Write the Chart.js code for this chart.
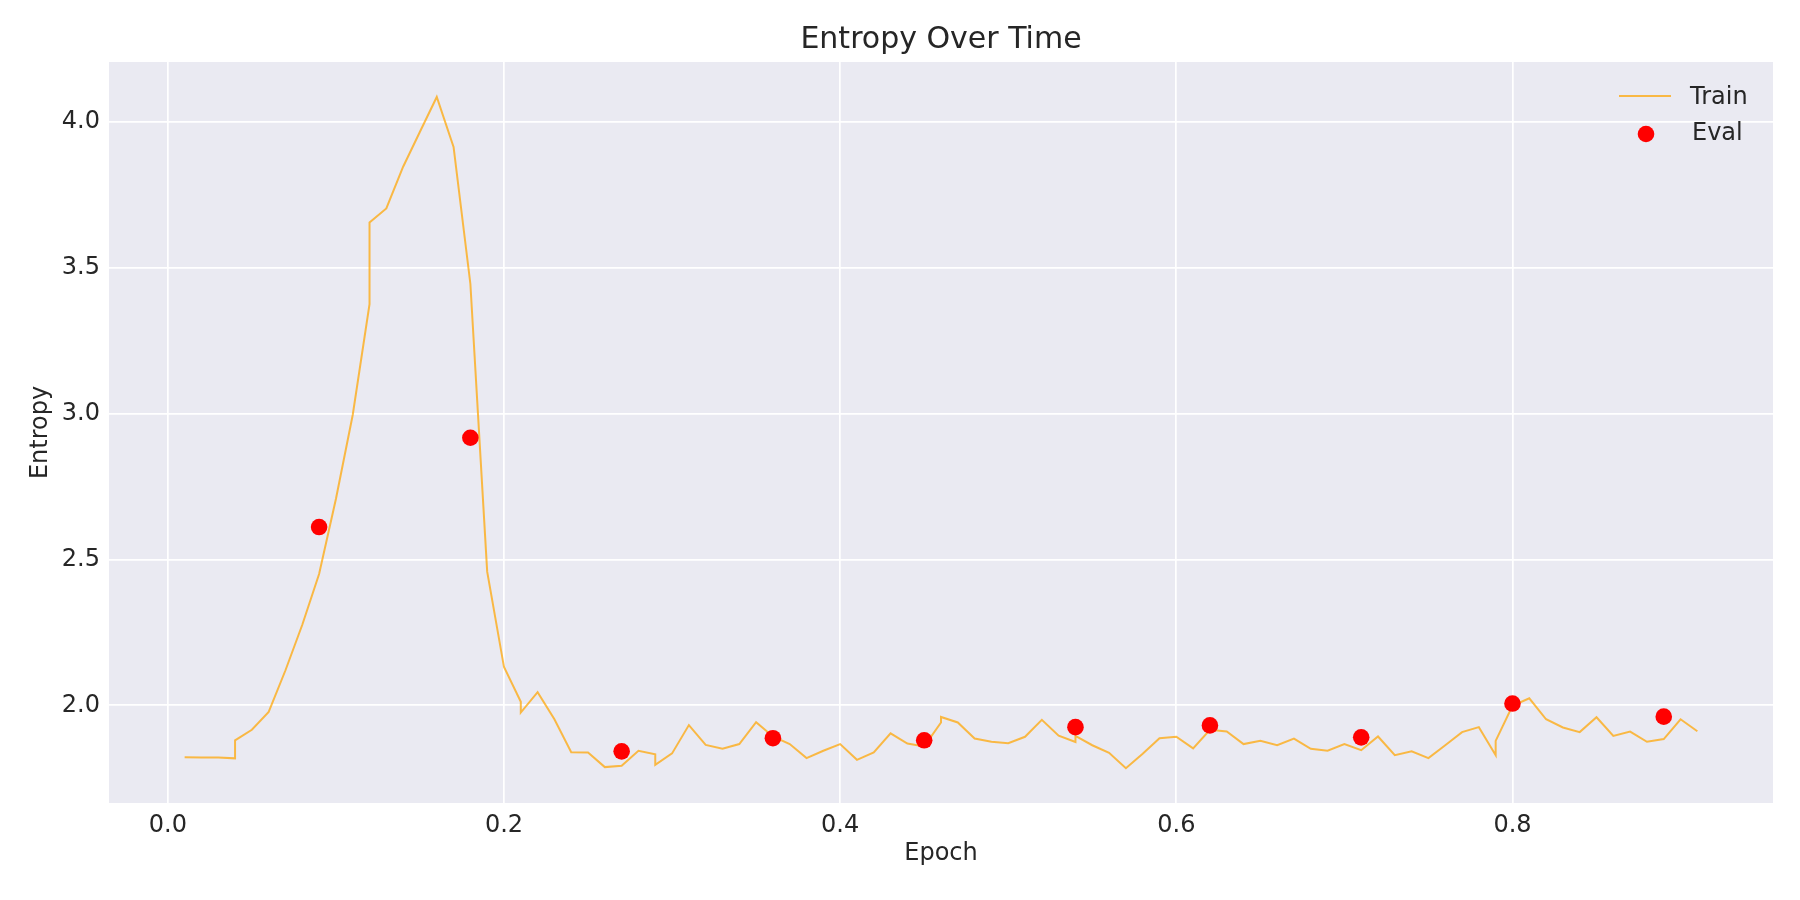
<!DOCTYPE html>
<html>
<head>
<meta charset="utf-8">
<title>Entropy Over Time</title>
<script src="https://cdn.jsdelivr.net/npm/chart.js@4/dist/chart.umd.min.js"></script>
<style>
  html, body { margin: 0; padding: 0; background: #ffffff; }
  canvas { display: block; }
</style>
</head>
<body>
<canvas id="chart" width="1800" height="900"></canvas>
<script>
// Train entropy logged per step (epoch rounded to 2 decimals, so some epochs repeat)
const trainEpoch = [
    0.01, 0.02, 0.03, 0.04, 0.04, 0.05, 0.06, 0.07, 0.08, 0.09,
    0.10, 0.11, 0.12, 0.12, 0.13, 0.14, 0.15, 0.16, 0.17, 0.18,
    0.19, 0.20, 0.21, 0.21, 0.22, 0.23, 0.24, 0.25, 0.26, 0.27,
    0.28, 0.29, 0.29, 0.30, 0.31, 0.32, 0.33, 0.34, 0.35, 0.36,
    0.37, 0.38, 0.39, 0.40, 0.41, 0.42, 0.43, 0.44, 0.45, 0.46,
    0.46, 0.47, 0.48, 0.49, 0.50, 0.51, 0.52, 0.53, 0.54, 0.54,
    0.55, 0.56, 0.57, 0.58, 0.59, 0.60, 0.61, 0.62, 0.63, 0.64,
    0.65, 0.66, 0.67, 0.68, 0.69, 0.70, 0.71, 0.72, 0.73, 0.74,
    0.75, 0.76, 0.77, 0.78, 0.79, 0.79, 0.80, 0.81, 0.82, 0.83,
    0.84, 0.85, 0.86, 0.87, 0.88, 0.89, 0.90, 0.91
];
const trainEntropy = [
    1.822, 1.821, 1.821, 1.818, 1.880, 1.916, 1.977, 2.120, 2.276, 2.450,
    2.707, 2.995, 3.375, 3.655, 3.703, 3.846, 3.966, 4.085, 3.914, 3.445,
    2.458, 2.131, 2.012, 1.975, 2.045, 1.952, 1.839, 1.838, 1.788, 1.793,
    1.844, 1.832, 1.796, 1.835, 1.932, 1.864, 1.851, 1.867, 1.942, 1.893,
    1.867, 1.819, 1.844, 1.867, 1.813, 1.838, 1.904, 1.869, 1.859, 1.941,
    1.960, 1.941, 1.886, 1.875, 1.870, 1.892, 1.950, 1.896, 1.874, 1.895,
    1.863, 1.837, 1.784, 1.834, 1.887, 1.892, 1.852, 1.916, 1.910, 1.867,
    1.878, 1.863, 1.886, 1.851, 1.844, 1.867, 1.846, 1.893, 1.829, 1.842,
    1.819, 1.863, 1.908, 1.925, 1.829, 1.878, 1.998, 2.024, 1.952, 1.924,
    1.908, 1.959, 1.895, 1.910, 1.875, 1.884, 1.952, 1.911
];

// Eval entropy
const evalEpoch = [0.09, 0.18, 0.27, 0.36, 0.45, 0.54, 0.62, 0.71, 0.80, 0.89];
const evalEntropy = [2.611, 2.917, 1.842, 1.887, 1.880, 1.925, 1.931, 1.890, 2.006, 1.961];

// Tick labels
const xTicks = [0.0, 0.2, 0.4, 0.6, 0.8];
const yTicks = [2.0, 2.5, 3.0, 3.5, 4.0];

const TEXT = '#262626';
const FONT = "'DejaVu Sans', sans-serif";
const TRAIN_COLOR = 'rgba(255, 165, 0, 0.72)';
const EVAL_COLOR = '#ff0000';

// Grey panel behind the plot area (seaborn darkgrid look)
const panelBackground = {
    id: 'panelBackground',
    beforeDraw(chart) {
        const { ctx, chartArea: a } = chart;
        ctx.save();
        ctx.fillStyle = '#eaeaf2';
        ctx.fillRect(a.left, a.top, a.right - a.left, a.bottom - a.top);
        ctx.restore();
    }
};

// Legend in the upper right corner, inside the plot area
const innerLegend = {
    id: 'innerLegend',
    afterDraw(chart) {
        const { ctx, chartArea: a } = chart;
        const train = chart.data.datasets[1];
        const ev = chart.data.datasets[0];
        const x0 = a.right - 154;
        ctx.save();
        ctx.font = '24px ' + FONT;
        ctx.fillStyle = TEXT;
        ctx.textBaseline = 'middle';
        ctx.textAlign = 'left';

        ctx.strokeStyle = train.borderColor;
        ctx.lineWidth = train.borderWidth;
        ctx.beginPath();
        ctx.moveTo(x0, a.top + 34);
        ctx.lineTo(x0 + 52, a.top + 34);
        ctx.stroke();
        ctx.fillText(train.label, x0 + 71, a.top + 35.5);

        ctx.fillStyle = ev.backgroundColor;
        ctx.beginPath();
        ctx.arc(x0 + 27, a.top + 72, ev.pointRadius, 0, Math.PI * 2);
        ctx.fill();
        ctx.fillStyle = TEXT;
        ctx.fillText(ev.label, x0 + 73, a.top + 71.5);
        ctx.restore();
    }
};

function fixedTicks(values) {
    return function (scale) {
        scale.ticks = values.map(v => ({ value: v }));
    };
}

new Chart(document.getElementById('chart'), {
    type: 'line',
    data: {
        datasets: [
            {
                label: 'Eval',
                type: 'scatter',
                data: evalEpoch.map((x, i) => ({ x: x, y: evalEntropy[i] })),
                backgroundColor: EVAL_COLOR,
                borderColor: EVAL_COLOR,
                borderWidth: 0,
                pointRadius: 8.3,
                pointHoverRadius: 8.3,
                order: 0
            },
            {
                label: 'Train',
                data: trainEpoch.map((x, i) => ({ x: x, y: trainEntropy[i] })),
                borderColor: TRAIN_COLOR,
                backgroundColor: TRAIN_COLOR,
                borderWidth: 2,
                pointRadius: 0,
                tension: 0,
                fill: false,
                order: 1
            }
        ]
    },
    options: {
        responsive: false,
        devicePixelRatio: 1,
        animation: false,
        layout: { padding: { left: 0, right: 27, top: 0, bottom: 0 } },
        plugins: {
            legend: { display: false },
            tooltip: { enabled: false },
            title: {
                display: true,
                fullSize: false,   // centre the title over the plot area, like matplotlib
                text: 'Entropy Over Time',
                color: TEXT,
                font: { family: FONT, size: 30, weight: 'normal', lineHeight: 1.2 },
                padding: { top: 22, bottom: 4 }
            }
        },
        scales: {
            x: {
                type: 'linear',
                min: -0.035,
                max: 0.955,
                afterBuildTicks: fixedTicks(xTicks),
                afterFit(scale) { scale.height = 97; },
                grid: { color: '#ffffff', lineWidth: 1.7, drawTicks: false },
                border: { display: false },
                ticks: {
                    color: TEXT,
                    font: { family: FONT, size: 24 },
                    padding: 8,
                    maxRotation: 0,
                    callback: v => v.toFixed(1)
                },
                title: {
                    display: true,
                    text: 'Epoch',
                    color: TEXT,
                    font: { family: FONT, size: 24, lineHeight: 1.2 },
                    padding: { top: 0, bottom: 31.6 }
                }
            },
            y: {
                type: 'linear',
                min: 1.665,
                max: 4.205,
                afterBuildTicks: fixedTicks(yTicks),
                afterFit(scale) { scale.width = 109; },
                grid: { color: '#ffffff', lineWidth: 1.7, drawTicks: false },
                border: { display: false },
                ticks: {
                    color: TEXT,
                    font: { family: FONT, size: 24 },
                    padding: 9,
                    callback: v => v.toFixed(1)
                },
                title: {
                    display: true,
                    text: 'Entropy',
                    color: TEXT,
                    font: { family: FONT, size: 24, lineHeight: 1.2 },
                    padding: { top: 26.6, bottom: 0 }
                }
            }
        }
    },
    plugins: [panelBackground, innerLegend]
});
</script>
</body>
</html>
